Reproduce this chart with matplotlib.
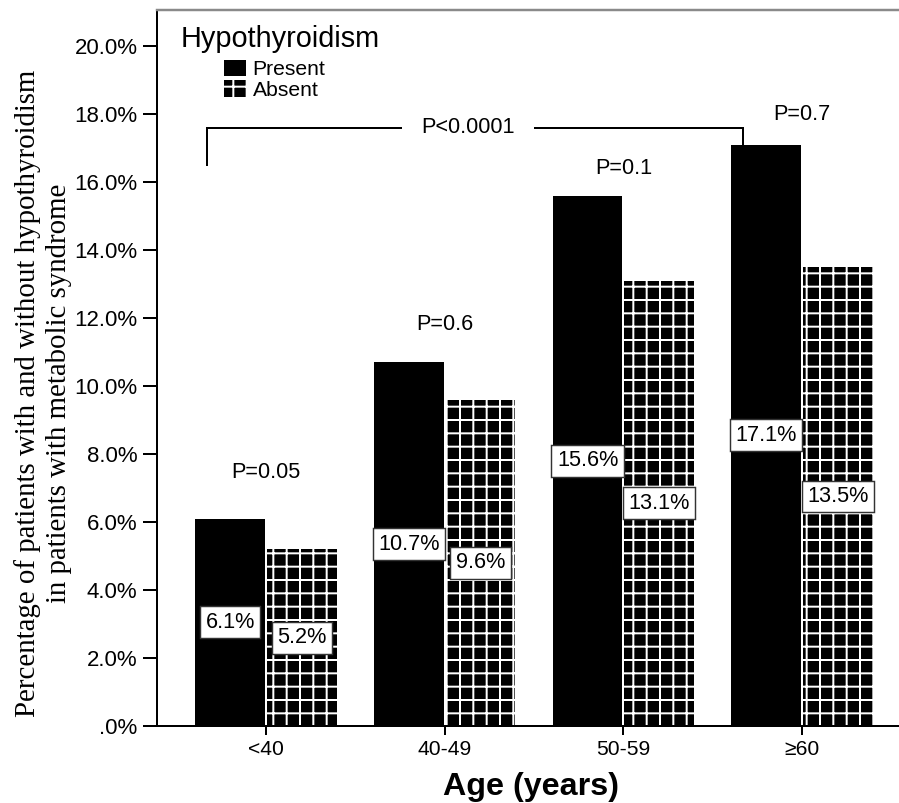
import numpy as np
import matplotlib.pyplot as plt
from matplotlib.patches import Patch
from matplotlib.ticker import FuncFormatter

# data
age_groups = ['<40', '40-49', '50-59', '≥60']
present = [6.1, 10.7, 15.6, 17.1]
absent = [5.2, 9.6, 13.1, 13.5]
p_labels = ['P=0.05', 'P=0.6', 'P=0.1', 'P=0.7']
p_label_y = [7.45, 11.8, 16.4, 18.0]
overall_p = 'P<0.0001'
bracket_top = 17.6
bracket_left_bottom = 16.5

W, H, DPI = 899, 803, 80
plt.rcParams['font.family'] = ['Liberation Sans', 'DejaVu Sans']
plt.rcParams['hatch.linewidth'] = 1.8

def fx(px):
    return px / W

def fy(py):
    return 1 - py / H

fig = plt.figure(figsize=(W / DPI, H / DPI), dpi=DPI)
ax = fig.add_axes([fx(157), fy(726), fx(911) - fx(157), fy(10) - fy(726)])

x = np.arange(len(age_groups))
bw = 0.39
off = 0.2
ax.bar(x - off, present, bw, color='black', edgecolor='black', linewidth=0, zorder=2)
ax.bar(x + off, absent, bw, color='black', edgecolor='white', linewidth=0,
       hatch='+', zorder=2)

# value boxes at half height
box = dict(boxstyle='square,pad=0.25', fc='white', ec='#333333', lw=1.3)
for xi, v in zip(x - off, present):
    ax.text(xi, v / 2, f'{v:.1f}%', ha='center', va='center', fontsize=19.5, zorder=4, bbox=box)
for xi, v in zip(x + off, absent):
    ax.text(xi, v / 2, f'{v:.1f}%', ha='center', va='center', fontsize=19.5, zorder=4, bbox=box)

for xi, lab, yy in zip(x, p_labels, p_label_y):
    ax.text(xi, yy, lab, ha='center', va='center', fontsize=19.5)

# bracket across groups
bx0 = x[0] - 0.33
bx1 = x[-1] - 0.33
ax.plot([bx0, bx0, bx1, bx1], [bracket_left_bottom, bracket_top, bracket_top, present[-1]],
        color='black', lw=1.8, zorder=3, solid_joinstyle='miter')
ax.text((bx0 + bx1) / 2 - 0.04, bracket_top, overall_p, ha='center', va='center',
        fontsize=19.5, zorder=4, bbox=dict(boxstyle='square,pad=0.9', fc='white', ec='none'))

ax.set_xlim(-0.61, 3.61)
ax.set_ylim(0, (726 - 10) / 34)
ax.set_yticks(np.arange(0, 21, 2))
ax.yaxis.set_major_formatter(FuncFormatter(lambda v, p: '.0%' if v == 0 else f'{v:.1f}%'))
ax.set_xticks(x)
ax.set_xticklabels(age_groups)
ax.tick_params(axis='y', labelsize=20, length=12.5, width=1.8, pad=5, direction='out')
ax.tick_params(axis='x', labelsize=19, length=8, width=1.8, pad=5, direction='out')

for s in ['left', 'bottom']:
    ax.spines[s].set_linewidth(1.8)
    ax.spines[s].set_color('black')
ax.spines['top'].set_color('#8a8a8a')
ax.spines['top'].set_linewidth(2.2)
ax.spines['right'].set_visible(False)

# title and legend
fig.text(fx(181), fy(47), 'Hypothyroidism', fontsize=26, ha='left', va='baseline')
handles = [Patch(facecolor='black', edgecolor='black', linewidth=0),
           Patch(facecolor='black', edgecolor='white', linewidth=0, hatch='+')]
fig.legend(handles, ['Present', 'Absent'], loc='upper left',
           bbox_to_anchor=(fx(224), fy(60)), frameon=False, fontsize=19,
           handlelength=1.05, handleheight=0.8, handletextpad=0.3,
           labelspacing=0.05, borderpad=0, borderaxespad=0)

fig.text(fx(531), fy(795), 'Age (years)', fontsize=29, fontweight='bold',
         ha='center', va='baseline')
fig.text(fx(43), fy(393),
         'Percentage of patients with and without hypothyroidism\n'
         'in patients with metabolic syndrome',
         rotation=90, ha='center', va='center', multialignment='center',
         fontsize=26, family='Liberation Serif', linespacing=1.25)

fig.savefig('out.png', dpi=DPI)
